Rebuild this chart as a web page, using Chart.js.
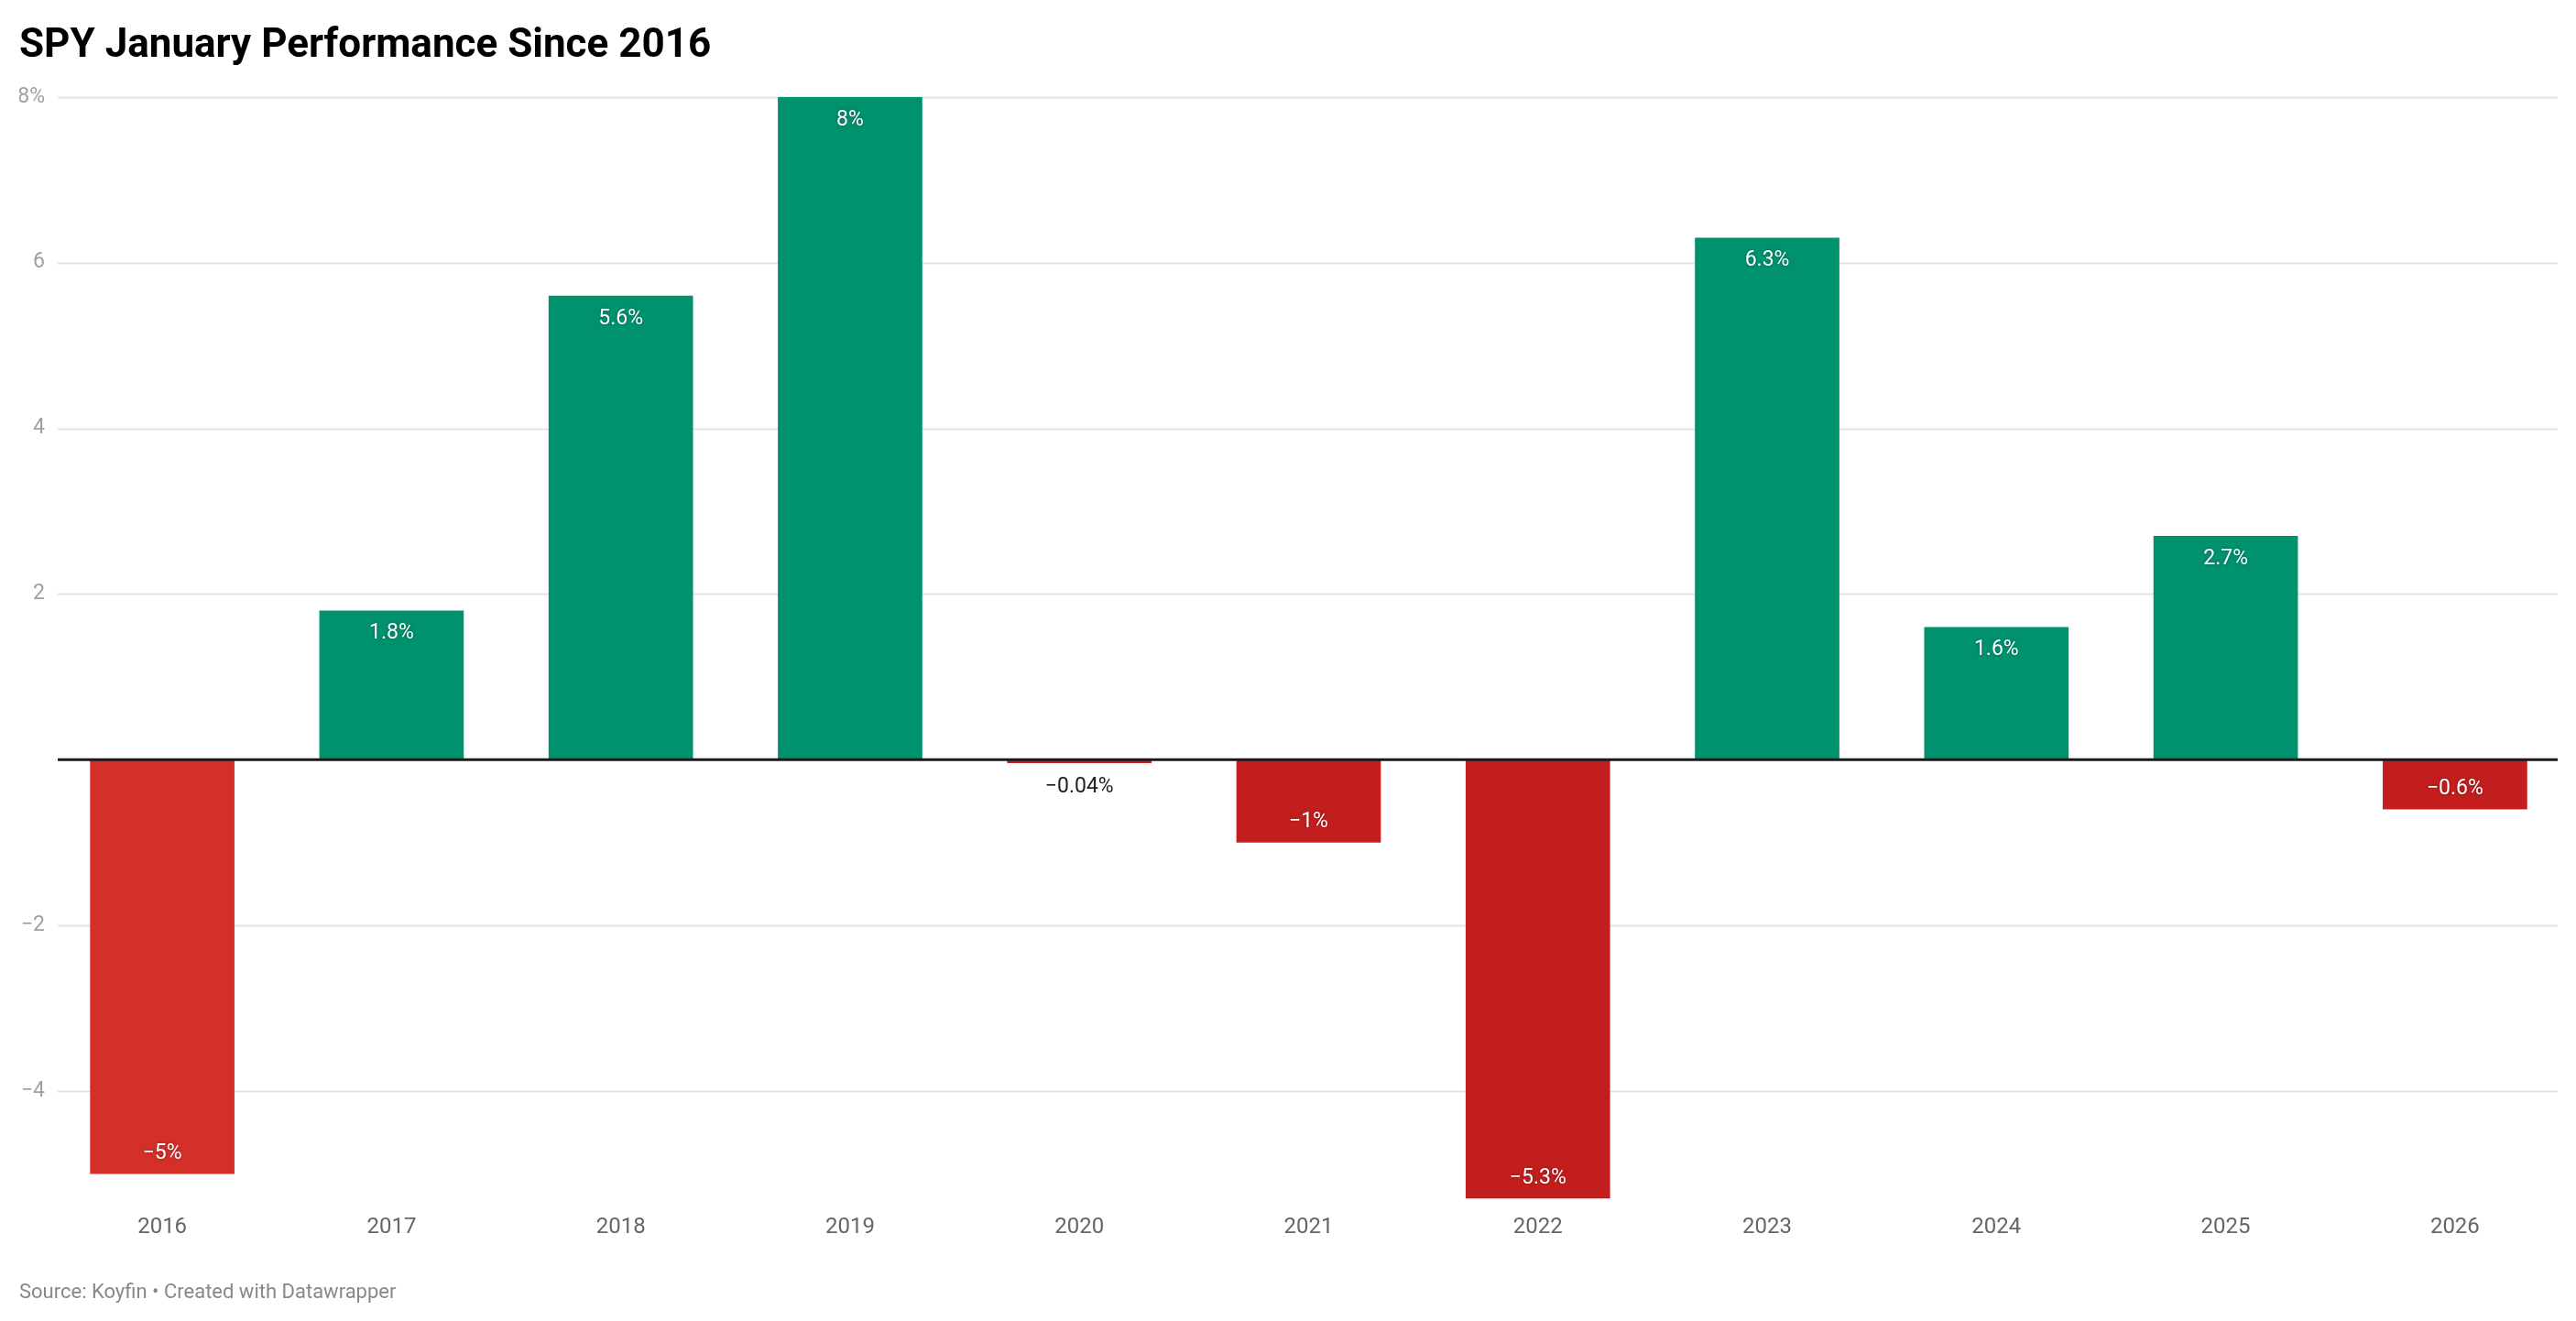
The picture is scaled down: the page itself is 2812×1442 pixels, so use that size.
<!DOCTYPE html>
<html><head><meta charset="utf-8">
<script src="https://cdn.jsdelivr.net/npm/chart.js@4.4.1/dist/chart.umd.min.js"></script>
<style>html,body{margin:0;padding:0;background:#fff;}#c{display:block;}</style>
</head><body>
<canvas id="c" width="2812" height="1442" style="width:2812px;height:1442px"></canvas>
<script>
const years = ['2016','2017','2018','2019','2020','2021','2022','2023','2024','2025','2026'];
const returns = [-5, 1.8, 5.6, 8, -0.04, -1, -5.3, 6.3, 1.6, 2.7, -0.6];
const valueLabels = ['−5%','1.8%','5.6%','8%','−0.04%','−1%','−5.3%','6.3%','1.6%','2.7%','−0.6%'];
const yTickValues = [-4, -2, 0, 2, 4, 6, 8];
const yTickLabels = ['−4', '−2', '', '2', '4', '6', '8%'];
const barColors = ['#d52f2a','#00916f','#00916f','#00916f','#c21e1e','#c21e1e','#c21e1e','#00916f','#00916f','#00916f','#c21e1e'];

const gridPlugin = {
  id: 'customGrid',
  beforeDatasetsDraw(chart) {
    const ctx = chart.ctx, ys = chart.scales.y, area = chart.chartArea;
    const x0 = area.left + 11, x1 = area.right - 13;
    ctx.save();
    yTickValues.forEach(v => {
      if (v === 0) return;
      const y = Math.round(ys.getPixelForValue(v)) + 0.5;
      ctx.strokeStyle = '#e4e4e4'; ctx.lineWidth = 2;
      ctx.beginPath(); ctx.moveTo(x0, y); ctx.lineTo(x1, y); ctx.stroke();
    });
    ctx.restore();
  },
  afterDatasetsDraw(chart) {
    const ctx = chart.ctx, ys = chart.scales.y, area = chart.chartArea;
    const x0 = area.left + 11, x1 = area.right - 13;
    const y = ys.getPixelForValue(0);
    ctx.save();
    ctx.strokeStyle = '#1a1a1a'; ctx.lineWidth = 3;
    ctx.beginPath(); ctx.moveTo(x0, y); ctx.lineTo(x1, y); ctx.stroke();
    ctx.restore();
  }
};

const labelPlugin = {
  id: 'valueLabels',
  afterDatasetsDraw(chart) {
    const ctx = chart.ctx;
    const meta = chart.getDatasetMeta(0);
    ctx.save();
    ctx.font = '23px Roboto';
    ctx.textAlign = 'center';
    ctx.textBaseline = 'middle';
    meta.data.forEach((bar, i) => {
      const v = returns[i];
      const len = Math.abs(bar.base - bar.y);
      let y, color, shadow;
      if (len < 45) {
        y = v < 0 ? bar.y + 26 : bar.y - 26;
        color = '#222'; shadow = false;
      } else {
        y = v < 0 ? bar.y - 22 : bar.y + 25;
        color = '#fff'; shadow = true;
      }
      if (shadow) { ctx.shadowColor = 'rgba(0,0,0,0.35)'; ctx.shadowBlur = 3; }
      else { ctx.shadowColor = 'transparent'; ctx.shadowBlur = 0; }
      ctx.fillStyle = color;
      ctx.fillText(valueLabels[i], bar.x, y);
    });
    ctx.restore();
  }
};

new Chart(document.getElementById('c'), {
  type: 'bar',
  data: {
    labels: years,
    datasets: [{
      data: returns,
      backgroundColor: barColors,
      borderWidth: 0,
      barPercentage: 0.63,
      categoryPercentage: 1.0
    }]
  },
  options: {
    responsive: false,
    animation: false,
    devicePixelRatio: 1,
    layout: { padding: { left: 21, right: 7, top: 0, bottom: 0 } },
    plugins: {
      legend: { display: false },
      tooltip: { enabled: false },
      title: {
        display: true, text: 'SPY January Performance Since 2016', align: 'start',
        color: '#000', font: { family: 'Roboto', size: 44, weight: 'bold', lineHeight: 1.2 },
        padding: { top: 25, bottom: 28 }
      },
      subtitle: {
        display: true, position: 'bottom', align: 'start',
        text: 'Source: Koyfin • Created with Datawrapper',
        color: '#888', font: { family: 'Roboto', size: 22, lineHeight: 1.2 },
        padding: { top: 30, bottom: 17 }
      }
    },
    scales: {
      x: {
        grid: { display: false },
        border: { display: false },
        ticks: { color: '#666', font: { family: 'Roboto', size: 24 }, padding: 9, maxRotation: 0 },
        afterFit(s) { s.height = 60; }
      },
      y: {
        min: -5.3, max: 8,
        border: { display: false },
        grid: { display: false, drawTicks: false },
        afterBuildTicks(s) { s.ticks = yTickValues.map(v => ({ value: v })); },
        ticks: {
          color: '#a0a0a0', font: { family: 'Roboto', size: 23 }, padding: 3,
          callback: (v) => { const i = yTickValues.indexOf(v); return i >= 0 ? yTickLabels[i] : ''; }
        },
        afterFit(s) { s.width = 31; }
      }
    }
  },
  plugins: [gridPlugin, labelPlugin]
});
</script>
</body></html>
